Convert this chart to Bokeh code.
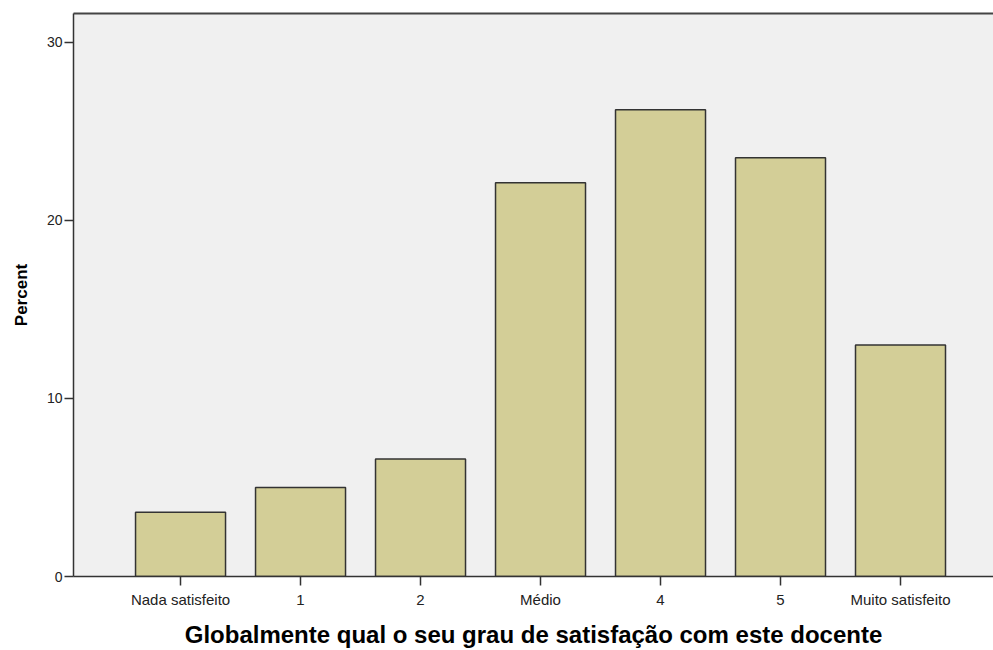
from bokeh.plotting import figure
from bokeh.models import Range1d, FixedTicker, LinearAxis
from bokeh.embed import file_html
from bokeh.resources import INLINE

categories = ["Nada satisfeito", "1", "2", "Médio", "4", "5", "Muito satisfeito"]
percent = [3.6, 5.0, 6.6, 22.1, 26.2, 23.5, 13.0]
y_ticks = [0, 10, 20, 30]

positions = list(range(1, len(categories) + 1))

p = figure(width=993, height=650, output_backend="svg", toolbar_location=None,
           x_range=Range1d(0.108, 7.775), y_range=Range1d(0, 31.6),
           x_axis_location=None, y_axis_location=None,
           min_border_left=73, min_border_right=0, min_border_top=13, min_border_bottom=10)

p.vbar(x=positions, top=percent, width=0.75, bottom=0,
       fill_color="#D3CE97", line_color="#333333", line_width=1.5)

p.background_fill_color = "#F0F0F0"
p.border_fill_color = "white"
p.outline_line_color = None

xa = LinearAxis(ticker=FixedTicker(ticks=positions),
                major_label_overrides={pos: c for pos, c in zip(positions, categories)})
ya = LinearAxis(ticker=FixedTicker(ticks=y_ticks))
# top frame line (the right side of the frame is cut off in the reference)
top = LinearAxis(ticker=FixedTicker(ticks=[]),
                 axis_line_color="#444444", axis_line_width=2,
                 major_tick_line_color=None, minor_tick_line_color=None,
                 major_label_text_color=None, fixed_location=None)
p.add_layout(xa, "below")
p.add_layout(ya, "left")
p.add_layout(top, "above")
p.grid.visible = False

for ax in (xa, ya):
    ax.axis_line_color = "#333333"
    ax.axis_line_width = 1.5
    ax.major_tick_line_color = "#333333"
    ax.major_tick_line_width = 1.5
    ax.major_tick_out = 9
    ax.major_tick_in = 0
    ax.minor_tick_line_color = None
    ax.major_label_text_font = "Liberation Sans"
    ax.major_label_text_font_size = "14px"
    ax.major_label_text_color = "#222222"
    ax.axis_label_text_font = "Liberation Sans"
    ax.axis_label_text_font_style = "bold"
    ax.axis_label_text_color = "#000000"

xa.major_label_text_font_size = "15px"
ya.major_label_standoff = 2
xa.major_label_standoff = 5
ya.axis_label = "Percent"
ya.axis_label_text_font_size = "17px"
ya.axis_label_standoff = 13
xa.axis_label = "Globalmente qual o seu grau de satisfação com este docente"
xa.axis_label_text_font_size = "24px"
xa.axis_label_standoff = 10

open("out.html", "w").write(file_html(p, INLINE))
